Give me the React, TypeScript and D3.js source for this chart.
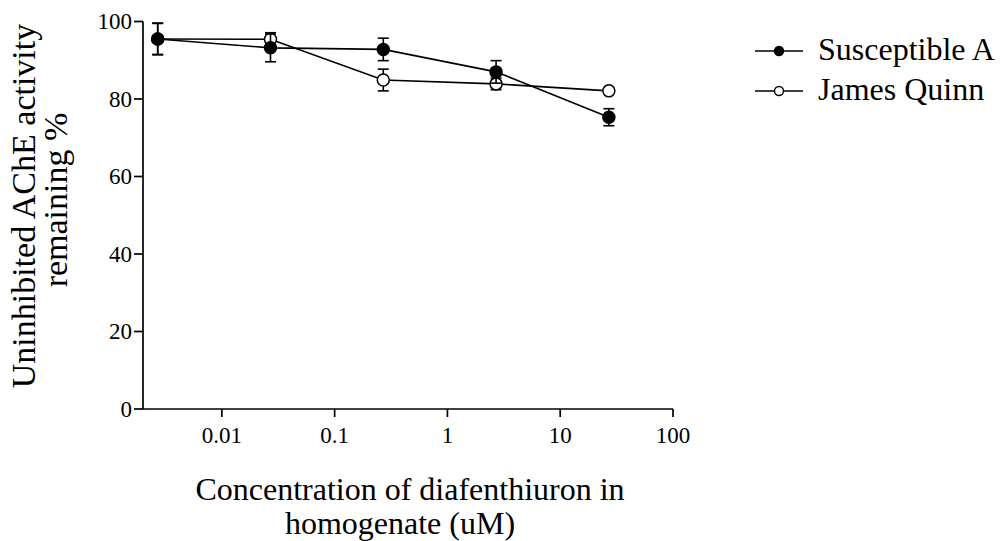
import React from "react"
import * as d3 from "d3"

// concentration of diafenthiuron (uM)
const concentrations = [0.0027, 0.027, 0.27, 2.7, 27]
const susceptibleA = [95.5, 93.2, 92.8, 87, 75.3]
const susceptibleErr = [4.1, 3.6, 2.9, 2.9, 2.2]
const jamesQuinn = [95.5, 95.4, 84.9, 83.9, 82.1]
const jamesQuinnErr = [4.0, 1.7, 2.8, 1.5, 0]
const xTicks = [0.01, 0.1, 1, 10, 100]
const yTicks = [0, 20, 40, 60, 80, 100]
const seriesNames = ["Susceptible A", "James Quinn"]

const FONT = "serif"
const SW = 1.7

const xScale = d3.scaleLog().domain([0.002, 100]).range([143, 673])
const yScale = d3.scaleLinear().domain([0, 100]).range([409, 21.5])

const line = d3.line<number>()
    .x((d, i) => xScale(concentrations[i]))
    .y(d => yScale(d))

const series = [
    { name: seriesNames[1], values: jamesQuinn, err: jamesQuinnErr, fill: "#fff" },
    { name: seriesNames[0], values: susceptibleA, err: susceptibleErr, fill: "#000" },
]

export default function App() {
    const [x0, x1] = xScale.range()
    const [y0, y1] = yScale.range()
    return (
        <svg width={1002} height={541} fontFamily={FONT}
            style={{ position: "absolute", left: 0, top: 0, background: "#fff", fontFamily: FONT }}>
            {/* y axis */}
            <line x1={x0} x2={x0} y1={y0} y2={y1} stroke="#000" strokeWidth={SW} />
            {yTicks.map(t => (
                <g key={"y" + t}>
                    <line x1={x0 - 9} x2={x0} y1={yScale(t)} y2={yScale(t)} stroke="#000" strokeWidth={SW} />
                    <text x={x0 - 11} y={yScale(t)} dy="0.34em" textAnchor="end" fontSize={23}
                        style={{ fontFamily: FONT }}>{t}</text>
                </g>
            ))}
            {/* x axis */}
            <line x1={x0} x2={x1} y1={y0} y2={y0} stroke="#000" strokeWidth={SW} />
            {xTicks.map(t => (
                <g key={"x" + t}>
                    <line x1={xScale(t)} x2={xScale(t)} y1={y0} y2={y0 + 8} stroke="#000" strokeWidth={SW} />
                    <text x={xScale(t)} y={y0 + 34} textAnchor="middle" fontSize={23}
                        style={{ fontFamily: FONT }}>{String(t)}</text>
                </g>
            ))}

            {/* axis titles */}
            <text transform="translate(35,206) rotate(-90)" textAnchor="middle" fontSize={34}
                style={{ fontFamily: FONT }}>Uninhibited AChE activity</text>
            <text transform="translate(67,200) rotate(-90)" textAnchor="middle" fontSize={34}
                style={{ fontFamily: FONT }}>remaining %</text>
            <text x={410} y={500} textAnchor="middle" fontSize={32}
                style={{ fontFamily: FONT }}>Concentration of diafenthiuron in</text>
            <text x={400} y={534} textAnchor="middle" fontSize={32}
                style={{ fontFamily: FONT }}>homogenate (uM)</text>

            {/* series */}
            {series.map(s => (
                <g key={s.name}>
                    <path d={line(s.values) || ""} fill="none" stroke="#000" strokeWidth={1.6} />
                    {s.values.map((v, i) => {
                        const cx = xScale(concentrations[i])
                        const top = yScale(v + s.err[i])
                        const bot = yScale(v - s.err[i])
                        return (
                            <g key={i}>
                                {s.err[i] > 0 && (
                                    <g stroke="#000" strokeWidth={1.6}>
                                        <line x1={cx} x2={cx} y1={top} y2={bot} />
                                        <line x1={cx - 5.5} x2={cx + 5.5} y1={top} y2={top} />
                                        <line x1={cx - 5.5} x2={cx + 5.5} y1={bot} y2={bot} />
                                    </g>
                                )}
                                <circle cx={cx} cy={yScale(v)} r={6} fill={s.fill} stroke="#000" strokeWidth={1.5} />
                            </g>
                        )
                    })}
                </g>
            ))}

            {/* legend */}
            {seriesNames.map((name, i) => {
                const y = 51 + i * 40
                return (
                    <g key={name}>
                        <line x1={755} x2={803} y1={y} y2={y} stroke="#000" strokeWidth={1.6} />
                        <circle cx={779} cy={y} r={4.5} fill={i === 0 ? "#000" : "#fff"} stroke="#000" strokeWidth={1.4} />
                        <text x={818} y={y + 9} fontSize={32} style={{ fontFamily: FONT }}>{name}</text>
                    </g>
                )
            })}
        </svg>
    )
}
